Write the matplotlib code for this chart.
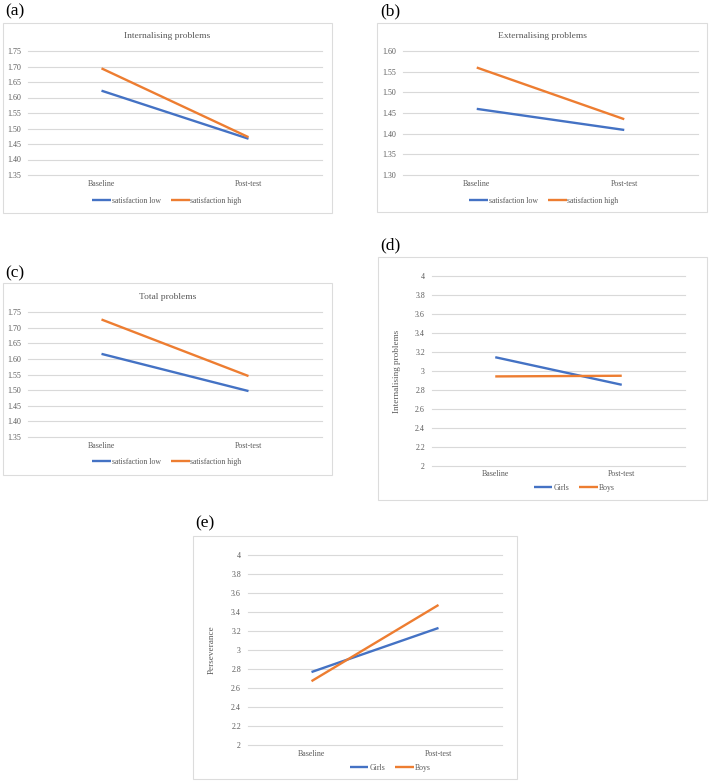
import matplotlib.pyplot as plt
from matplotlib.patches import Rectangle
from matplotlib.transforms import blended_transform_factory

plt.rcParams["font.family"] = ["Liberation Serif", "DejaVu Serif"]

W, H = 709, 782

# Data
timepoints = ["Baseline", "Post-test"]
sat_labels = ["satisfaction low", "satisfaction high"]
sex_labels = ["Girls", "Boys"]

internal_low = [1.622, 1.467]
internal_high = [1.694, 1.472]
external_low = [1.460, 1.409]
external_high = [1.560, 1.435]
total_low = [1.616, 1.497]
total_high = [1.726, 1.545]
internal_girls = [3.145, 2.855]
internal_boys = [2.943, 2.950]
persev_girls = [2.768, 3.232]
persev_boys = [2.672, 3.474]

ticks_a = [1.35, 1.40, 1.45, 1.50, 1.55, 1.60, 1.65, 1.70, 1.75]
ticks_b = [1.30, 1.35, 1.40, 1.45, 1.50, 1.55, 1.60]
ticks_d = [2, 2.2, 2.4, 2.6, 2.8, 3, 3.2, 3.4, 3.6, 3.8, 4]

BLUE = "#4472C4"
ORANGE = "#ED7D31"
GRID = "#d9d9d9"
BOX = "#dcdcdc"
TXT = "#595959"

fig = plt.figure(figsize=(W / 100, H / 100), dpi=100)


def fx(x):
    return x / W


def fy(y):
    return 1 - y / H


def panel(tag, tag_xy, box, area, series, labels, ticks, fmt, title=None,
          title_y=None, ylabel=None, ylabel_x=None, xlab_y=None, leg_xy=None):
    # outer chart box
    x0, y0, x1, y1 = box
    fig.patches.append(Rectangle((fx(x0), fy(y1)), fx(x1 - x0), (y1 - y0) / H,
                                 transform=fig.transFigure, fill=False,
                                 edgecolor=BOX, linewidth=0.8))
    fig.text(fx(tag_xy[0]), fy(tag_xy[1]), tag, fontsize=12.5, va="center",
             ha="left", color="black")
    ax0, ay0, ax1, ay1 = area
    ax = fig.add_axes([fx(ax0), fy(ay1), fx(ax1 - ax0), (ay1 - ay0) / H])
    for vals, c in zip(series, [BLUE, ORANGE]):
        ax.plot([0, 1], vals, color=c, linewidth=1.7, solid_capstyle="butt")
    ax.set_xlim(-0.5, 1.5)
    ax.set_ylim(ticks[0], ticks[-1])
    ax.set_yticks(ticks)
    ax.set_yticklabels([fmt.format(t) for t in ticks])
    ax.set_xticks([0, 1])
    ax.set_xticklabels([])
    ax.grid(axis="y", color=GRID, linewidth=0.8)
    for g in ax.get_ygridlines():
        g.set_clip_on(False)
    ax.set_axisbelow(True)
    for s in ax.spines.values():
        s.set_visible(False)
    ax.tick_params(axis="both", length=0, labelsize=5.7, labelcolor=TXT, pad=5)
    tr = blended_transform_factory(ax.transData, fig.transFigure)
    for i, t in enumerate(timepoints):
        ax.text(i, fy(xlab_y), t, transform=tr, ha="center", va="center",
                fontsize=5.7, color=TXT)
    if title:
        fig.text(fx((x0 + x1) / 2), fy(title_y), title, ha="center", va="center",
                 fontsize=6.8, color=TXT)
    if ylabel:
        fig.text(fx(ylabel_x), fy((ay0 + ay1) / 2), ylabel, rotation=90,
                 ha="center", va="center", fontsize=6.6, color=TXT)
    leg = ax.legend(ax.get_lines(), labels, loc="center", ncol=2, frameon=False,
                    bbox_to_anchor=(fx(leg_xy[0]), fy(leg_xy[1])),
                    bbox_transform=fig.transFigure, fontsize=5.6,
                    handlelength=2.4, handletextpad=0.1, columnspacing=1.3)
    for t in leg.get_texts():
        t.set_color(TXT)
    return ax


panel("(a)", (5, 11), (3, 23, 332, 213), (28, 51, 322, 175),
      [internal_low, internal_high], sat_labels, ticks_a, "{:.2f}",
      title="Internalising problems", title_y=36, xlab_y=184, leg_xy=(167, 201))

panel("(b)", (380, 11), (377, 23, 707, 212), (403, 51, 698, 175),
      [external_low, external_high], sat_labels, ticks_b, "{:.2f}",
      title="Externalising problems", title_y=36, xlab_y=184, leg_xy=(544, 201))

panel("(c)", (5, 273), (3, 283, 332, 475), (28, 312, 322, 437),
      [total_low, total_high], sat_labels, ticks_a, "{:.2f}",
      title="Total problems", title_y=297, xlab_y=446, leg_xy=(167, 462))

panel("(d)", (380, 245), (378, 257, 707, 500), (432, 276, 685, 466),
      [internal_girls, internal_boys], sex_labels, ticks_d, "{:g}",
      ylabel="Internalising problems", ylabel_x=397, xlab_y=474, leg_xy=(574, 488))

panel("(e)", (195, 523), (193, 536, 517, 779), (248, 555, 502, 745),
      [persev_girls, persev_boys], sex_labels, ticks_d, "{:g}",
      ylabel="Perseverance", ylabel_x=212, xlab_y=754, leg_xy=(390, 768))

fig.savefig("out.png", dpi=100, facecolor="white")
